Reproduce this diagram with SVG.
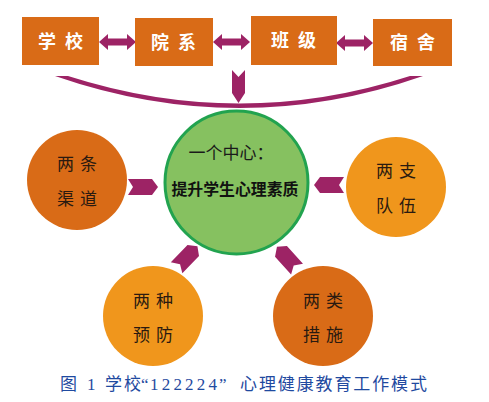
<svg xmlns="http://www.w3.org/2000/svg" width="489" height="402" viewBox="0 0 489 402">
<style>
.box{fill:#d96b17;}
.bt{font-family:"Noto Sans CJK SC",sans-serif;font-size:18px;font-weight:bold;fill:#ffffff;text-anchor:middle;letter-spacing:9px;}
.dk{fill:#d96b17;}
.lt{fill:#f0961c;}
.ct{font-family:"Noto Sans CJK SC",sans-serif;font-size:17px;fill:#2a1a10;text-anchor:middle;letter-spacing:6px;}
.arr{fill:#9d2365;}
.cap{font-family:"Liberation Serif","Noto Sans CJK SC",serif;font-size:17px;fill:#1f4aa0;}
</style>
<defs>
<polygon id="chev" points="-15,-8 9,-8 15,0 9,8 -15,8 -10,0"/>
<polygon id="dbl" points="0,0 9,-8 9,-3.5 28,-3.5 28,-8 37,0 28,8 28,3.5 9,3.5 9,8"/>
</defs>
<g id="connectors">
<use href="#dbl" class="arr" x="99" y="42"/>
<use href="#dbl" class="arr" x="213" y="42"/>
<use href="#dbl" class="arr" x="336" y="43"/>
<path class="arr" d="M55,76 Q240,140 423,76 L410,76 Q240,131 68,76 Z"/>
<polygon class="arr" points="232,70 238.5,77 245,70 245,93 238.5,103 232,93"/>
<use href="#chev" class="arr" transform="translate(143,187)"/>
<use href="#chev" class="arr" transform="translate(329,185) rotate(180)"/>
<use href="#chev" class="arr" transform="translate(187,257) rotate(-46)"/>
<use href="#chev" class="arr" transform="translate(287,258) rotate(-132)"/>
</g>
<g id="school"><rect class="box" x="22" y="17" width="77" height="48"/><text class="bt" x="65" y="48">学校</text></g>
<g id="dept"><rect class="box" x="135" y="18" width="78" height="48"/><text class="bt" x="178" y="49">院系</text></g>
<g id="class"><rect class="box" x="251" y="16" width="86" height="49"/><text class="bt" x="298" y="47">班级</text></g>
<g id="dorm"><rect class="box" x="373" y="19" width="79" height="47"/><text class="bt" x="417" y="49">宿舍</text></g>
<g id="center">
<circle cx="236.5" cy="182.5" r="71.5" fill="#86c160" stroke="#22a34f" stroke-width="3"/>
<text x="231" y="159" font-family="'Noto Sans CJK SC',sans-serif" font-size="17" fill="#1a1a1a" text-anchor="middle">一个中心：</text>
<text x="235" y="195" font-family="'Noto Sans CJK SC',sans-serif" font-size="16" font-weight="bold" fill="#111" text-anchor="middle" textLength="127" lengthAdjust="spacingAndGlyphs">提升学生心理素质</text>
</g>
<g id="channels"><circle class="dk" cx="77" cy="180" r="50"/><text class="ct" x="80" y="170">两条</text><text class="ct" x="80" y="205">渠道</text></g>
<g id="teams"><circle class="lt" cx="396" cy="187" r="50"/><text class="ct" x="399" y="177">两支</text><text class="ct" x="399" y="212">队伍</text></g>
<g id="prevention"><circle class="lt" cx="153" cy="316" r="50"/><text class="ct" x="156" y="307">两种</text><text class="ct" x="156" y="341">预防</text></g>
<g id="measures"><circle class="dk" cx="323" cy="316" r="50"/><text class="ct" x="326" y="307">两类</text><text class="ct" x="326" y="341">措施</text></g>
<text class="cap" y="390"><tspan x="60">图</tspan><tspan x="87">1</tspan><tspan x="105" textLength="36" lengthAdjust="spacing">学校</tspan><tspan x="141">“</tspan><tspan x="150" textLength="67" lengthAdjust="spacing">122224</tspan><tspan x="219">”</tspan><tspan x="240" textLength="187" lengthAdjust="spacing">心理健康教育工作模式</tspan></text>
</svg>
